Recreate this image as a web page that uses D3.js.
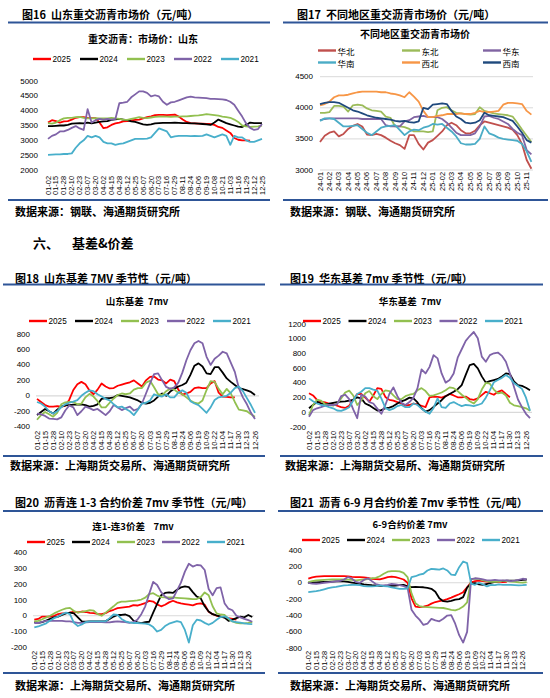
<!DOCTYPE html>
<html>
<head>
<meta charset="utf-8">
<script src="https://cdn.jsdelivr.net/npm/d3@7"></script>
<style>
  body { margin: 0; background: #fff; }
  svg text { font-family: 'Liberation Sans', Arial, sans-serif; fill: #000; }
  svg text.cjk { font-family: 'Noto Sans CJK SC', 'Liberation Sans', sans-serif; white-space: pre; }
</style>
</head>
<body>
<svg id="page" width="550" height="698"></svg>
<script>
// ---------- data ----------
const years = ['2025', '2024', '2023', '2022', '2021'];
const yearColors = ['#ff0000', '#000000', '#92c050', '#7f63a8', '#48afcb'];

const seasonLabels16 = ['01-02','01-15','01-28','02-10','02-23','03-07','03-20','04-02','04-15','04-28',
  '05-12','05-25','06-07','06-20','07-03','07-16','07-29','08-11','08-24','09-06','09-19',
  '10-08','10-21','11-03','11-16','11-29','12-12','12-25'];
const seasonLabels = ['01-02','01-15','01-28','02-10','02-23','03-07','03-20','04-02','04-15','04-28',
  '05-12','05-25','06-07','06-20','07-03','07-16','07-29','08-11','08-24','09-06','09-19',
  '10-09','10-22','11-04','11-17','11-30','12-13','12-26'];
const monthLabels17 = ['24-01','24-02','24-03','24-04','24-05','24-06','24-07','24-08','24-09','24-10','24-11','24-12',
  '25-01','25-02','25-03','25-04','25-05','25-06','25-07','25-08','25-09','25-10','25-11'];

// fig 16: Shandong market price, one value every half label
const sdPrice2025 = [3600,3680,3650,3600,3640,3650,3700,3760,3780,3780,3760,3750,3750,3600,3410,3440,3520,3570,3600,3640,
  3650,3670,3690,3700,3740,3780,3810,3850,3860,3860,3850,3860,3870,3800,3700,3620,3580,3570,3560,3560,
  3550,3550,3520,3450,3420,3330,3250,3080,3020,3000,3000,2990];
const sdPrice2024 = [3480,3480,3490,3500,3500,3520,3560,3570,3580,3570,3600,3570,3600,3620,3640,3650,3690,3710,3720,3700,
  3680,3640,3620,3580,3540,3520,3540,3570,3580,3590,3590,3590,3600,3590,3580,3580,3570,3570,3560,3550,
  3540,3520,3600,3700,3640,3580,3540,3500,3460,3450,3520,3600,3580,3580,3580];
const sdPrice2023 = [3580,3560,3600,3680,3740,3760,3760,3780,3790,3760,3740,3740,3750,3740,3740,3740,3760,3740,3720,3700,
  3690,3720,3750,3780,3760,3750,3770,3790,3800,3800,3800,3790,3800,3800,3810,3810,3820,3830,3840,3860,
  3880,3870,3850,3830,3800,3780,3760,3700,3620,3500,3470,3450,3460,3470,3500];
const sdPrice2022 = [3050,3150,3200,3300,3300,3350,3420,3480,3400,3350,4050,3600,3680,3720,3700,3720,3700,3720,4250,4270,
  4300,4450,4550,4650,4650,4600,4480,4520,4480,4300,4200,4280,4300,4350,4400,4450,4470,4450,4440,4430,
  4420,4400,4400,4390,4380,4360,4300,4200,4000,3800,3570,3420,3350,3380,3550];
const sdPrice2021 = [2510,2520,2530,2530,2540,2540,2560,2750,2900,3000,3150,3100,3150,3100,2950,2900,2900,2850,2880,2900,
  2950,3000,3050,3050,3050,3060,3100,3250,3400,3350,3300,3100,3130,3150,3150,3150,3140,3150,3140,3150,
  3200,3150,3100,3150,3200,3150,2850,3150,3100,3100,3000,2950,2950,3000,3050];

// fig 17: regional prices, one value every half month from 24-01
const regions = ['华北', '东北', '华东', '华南', '西北', '西南'];
const regionColors = ['#c0504d', '#9bbb59', '#8064a2', '#4bacc6', '#f79646', '#1f497d'];
const priceNorth = [3450,3550,3600,3620,3540,3580,3660,3710,3740,3700,3570,3560,3580,3560,3520,3470,3430,3400,3340,3560,
  3560,3420,3330,3440,3480,3550,3620,3720,3760,3720,3640,3590,3590,3630,3720,3780,3760,3740,3720,3700,
  3680,3650,3560,3420,3160,3020];
const priceNortheast = [3920,3920,3930,4030,4030,4020,3940,4040,4050,4040,3990,3960,3950,3940,3860,3840,3700,3700,3690,3660,
  3620,3620,3620,3610,3620,3960,4000,4010,3960,3920,3910,3900,3890,3900,4010,3950,3930,3910,3900,3890,
  3880,3860,3760,3650,3550,3450];
const priceEast = [3800,3820,3830,3830,3830,3830,3830,3830,3830,3820,3820,3820,3820,3820,3720,3700,3700,3700,3780,3800,
  3850,3860,3870,3850,3850,3850,3820,3760,3680,3600,3560,3560,3560,3590,3700,3860,3870,3840,3820,3780,
  3740,3660,3600,3560,3320,3250];
const priceSouth = [3790,3830,3830,3820,3760,3700,3700,3710,3720,3660,3600,3560,3620,3680,3700,3710,3720,3640,3560,3620,
  3650,3640,3680,3700,3740,3730,3740,3680,3620,3540,3430,3410,3410,3420,3500,3700,3590,3560,3520,3500,
  3490,3480,3470,3420,3300,3130];
const priceNorthwest = [4040,4060,4100,4170,4200,4200,4210,4230,4250,4260,4260,4260,4260,4250,4250,4230,4220,4200,4170,4250,
  4180,4100,3950,3850,3850,3870,3880,3900,3900,3900,3910,3900,3900,3920,3950,3930,3930,3940,3950,4050,
  4080,4080,4070,4060,3950,3890];
const priceSouthwest = [4060,4080,4090,4090,4080,4040,4000,3960,3940,3910,3880,3860,3840,3830,3820,3810,3790,3780,3790,3770,
  3760,3780,4000,3980,4050,4060,4070,4060,3950,3860,3820,3760,3750,3760,3800,3920,3880,3870,3860,3850,
  3820,3790,3700,3600,3480,3440];

// fig 18: Shandong basis 7mv
const sdBasis2025 = [-40,-80,-120,-140,-140,-135,-140,-130,-50,75,150,180,150,70,20,80,160,120,95,100,
  130,145,160,175,200,160,120,200,245,250,210,200,160,210,190,80,15,30,50,100,
  110,100,100,160,190,40,-10,-15,-20,-20];
const sdBasis2024 = [-250,-210,-170,-200,-230,-180,-140,-125,-120,-115,-115,-110,-120,-140,-130,-110,-40,-30,-30,-20,
  10,0,-10,-20,-40,-60,-90,-100,-90,-60,-10,30,0,55,90,120,140,170,270,390,
  420,380,290,280,370,370,300,225,180,140,100,85,70,50,10];
const sdBasis2023 = [-310,-250,-210,-240,-270,-220,-110,-85,-80,-80,-110,-100,-20,25,-10,-70,-150,-150,-90,-35,
  10,30,20,30,80,100,100,170,195,110,20,10,60,95,80,40,20,-20,-60,-90,
  -100,-60,75,190,180,90,20,90,30,-80,-180,-190,-200,-240,-270];
const sdBasis2022 = [-230,-240,-260,-295,-300,-305,-280,-190,-125,-150,-250,-200,-140,-160,-185,-170,-210,-250,-200,-120,
  -150,-185,-160,-140,-190,-170,-100,30,160,280,290,200,115,90,110,170,300,460,590,680,
  710,680,505,400,480,520,570,550,430,310,100,-20,-110,-220,-300];
const sdBasis2021 = [-80,-100,-140,-200,-230,-200,-150,-110,-90,-75,-55,0,40,70,60,20,-10,-40,-60,-110,
  -150,-140,-170,-200,-250,-180,-100,-90,-60,20,0,-10,20,-20,-20,40,70,40,-70,-100,
  -120,-170,-220,-150,-55,-20,-10,0,40,100,120,60,-30,-120,-220];

// fig 19: East China basis 7mv
const ecBasis2025 = [260,230,170,145,135,120,110,90,70,60,90,170,250,250,200,145,230,330,320,210,
  170,160,140,120,90,100,120,110,90,70,205,215,210,200,220,250,230,205,205,215,
  180,170,190,235,280,260,240,280,300,250,205];
const ecBasis2024 = [55,100,145,120,115,120,130,140,145,150,160,170,205,190,120,95,60,25,30,55,
  65,85,120,150,170,200,190,135,55,10,30,75,120,165,220,250,280,315,370,510,
  645,660,600,490,405,425,440,455,490,530,520,420,370,360,335,300];
const ecBasis2023 = [-40,100,170,160,110,100,90,120,190,270,295,230,100,160,260,290,220,180,250,300,
  290,230,180,180,220,240,250,300,330,290,225,230,250,270,300,340,330,290,240,200,
  150,120,180,310,400,390,310,260,270,230,130,95,85,70,55,20];
const ecBasis2022 = [-60,30,55,70,90,100,100,110,220,240,180,40,-80,240,215,140,120,50,-20,100,
  250,340,220,130,100,140,200,330,585,530,620,780,735,530,405,440,530,745,860,975,
  1040,1095,1010,760,690,780,805,815,770,690,530,350,175,70,-20,-80];
const ecBasis2021 = [190,150,120,100,90,70,55,25,20,40,70,160,250,280,330,330,310,295,190,60,
  30,50,85,100,70,70,120,100,50,10,-20,60,190,70,60,120,140,110,85,100,
  95,85,100,120,200,300,410,440,470,510,470,400,360,320,200,20];

// fig 20: 1-3 contract spread 7mv
const spread13_2025 = [-25,-20,-5,-5,-5,0,10,15,17,20,27,22,27,24,18,17,12,10,17,30,
  38,48,52,55,58,68,65,72,80,95,90,72,60,70,85,95,85,78,74,70,
  66,75,78,70,25,10,0,-5,-10,-15,-20,-25];
const spread13_2024 = [-40,-45,-40,-30,-20,-10,-5,5,15,20,15,-10,-35,-38,-36,-35,-36,-36,-34,-20,
  -5,5,5,8,-2,-30,-42,-46,-40,-38,20,75,130,145,148,145,165,180,186,182,
  150,122,110,60,27,10,2,-5,-12,-32,-25,-15,-5,-10,5,-8];
const spread13_2023 = [-36,-32,-22,-10,0,15,27,38,47,50,30,20,24,30,36,32,10,0,20,40,
  60,82,90,90,93,95,97,103,115,138,143,128,118,116,116,116,114,112,110,108,
  105,106,118,148,130,60,15,8,5,-20,-36,-45,-48,-48,-45,-40];
const spread13_2022 = [-46,-46,-38,-33,-32,-32,-32,-32,-35,-36,-40,-45,-45,-42,-40,-40,-40,-40,-42,-42,
  -38,-36,-38,-40,-45,-40,-25,10,60,140,215,195,150,122,105,110,160,210,280,330,
  312,322,320,290,170,130,175,180,80,45,35,0,-10,-20,-28,-38];
const spread13_2021 = [-74,-68,-58,-48,-30,-15,-5,10,20,10,-45,-65,-55,-40,-36,-36,-36,-36,-35,-15,
  8,5,-20,-35,-42,-46,-46,-48,-50,-55,-72,-100,-90,-65,-50,-42,-34,-40,-90,-170,
  -60,-25,-30,-45,-57,-45,-25,-8,-4,-15,-36,-40,-44,-48,-52,-53];

// fig 21: 6-9 contract spread 7mv
const spread69_2025 = [50,65,75,78,82,82,82,82,82,80,78,72,70,70,66,60,49,45,41,55,
  70,75,70,55,40,0,-190,-290,-298,-290,-280,-255,-235,-225,-215,-200,-182,-160,-140,-115,
  -55,5,20,25,20,15,10,12,15,8,10];
const spread69_2024 = [0,3,5,8,10,12,15,16,16,16,10,2,-5,-12,-20,-25,-30,-33,-37,-41,
  -41,-38,-35,-30,-25,-45,-53,-50,-53,-55,-62,-74,-110,-190,-225,-229,-220,-205,-200,-175,
  -60,-10,-5,-20,-25,-15,0,10,20,20,25,25,25,30,35,40];
const spread69_2023 = [8,20,29,32,35,38,40,41,41,40,38,35,30,36,40,45,55,60,80,110,
  135,143,143,140,120,70,-130,-250,-285,-295,-298,-300,-303,-306,-308,-318,-330,-338,-320,-290,
  -240,40,50,48,30,20,10,12,15,25,20,15,10,5,2,8];
const spread69_2022 = [0,-10,-12,-8,0,5,10,16,22,40,70,50,10,0,35,55,20,-15,-30,-32,
  -25,-15,-20,-30,-41,-60,-330,-400,-450,-515,-500,-440,-460,-470,-440,-400,-395,-500,-640,-730,
  -600,45,55,50,40,30,30,35,30,30,28,20,25,35,49,40];
const spread69_2021 = [-114,-108,-102,-94,-80,-65,-55,-50,-40,-33,-30,-25,-25,-30,-40,-45,-45,-42,-33,-40,
  -45,-55,-65,-74,-74,-70,70,80,100,110,150,170,165,160,175,150,100,95,190,260,
  240,-10,-25,0,-20,-45,-25,-30,-20,-25,-25,-25,-28,-32,-30,-25];

// ---------- chart ----------
class LineChart {

  constructor(_config, series) {
    this.config = {
      parentElement: _config.parentElement,
      xRange: _config.xRange,
      xDomain: _config.xDomain,
      yRange: _config.yRange,
      yDomain: _config.yDomain,
      yStep: _config.yStep,
      yLabelX: _config.yLabelX,
      xLabelY: _config.xLabelY,
      xLabels: _config.xLabels,
      step: 0.5,
      grid: _config.grid || null,
      zeroLine: _config.zeroLine || null,
      legend: _config.legend
    }
    this.series = series;
    this.initVis();
  }

  initVis() {
    let vis = this;
    vis.svg = d3.select(vis.config.parentElement);
    vis.chart = vis.svg.append('g');

    vis.xScale = d3.scaleLinear()
        .domain(vis.config.xDomain)
        .range(vis.config.xRange);
    vis.yScale = d3.scaleLinear()
        .domain(vis.config.yDomain)
        .range(vis.config.yRange);

    vis.line = d3.line()
        .x((d, i) => vis.xScale(i * vis.config.step))
        .y(d => vis.yScale(d));

    vis.renderVis();
  }

  renderVis() {
    let vis = this;
    const [y0, y1] = vis.config.yDomain;
    const yTicks = d3.range(y0, y1 + 1, vis.config.yStep);

    // horizontal gridlines (fig 17 only)
    if (vis.config.grid) {
      vis.chart.selectAll('.grid')
          .data(yTicks)
          .join('line')
          .attr('class', 'grid')
          .attr('x1', vis.config.grid[0])
          .attr('x2', vis.config.grid[1])
          .attr('y1', d => vis.yScale(d))
          .attr('y2', d => vis.yScale(d))
          .attr('stroke', '#d9d9d9')
          .attr('stroke-width', 1);
    }

    // zero line for the spread charts
    if (vis.config.zeroLine) {
      vis.chart.append('line')
          .attr('x1', vis.config.zeroLine[0])
          .attr('x2', vis.config.zeroLine[1])
          .attr('y1', vis.yScale(0))
          .attr('y2', vis.yScale(0))
          .attr('stroke', '#d9d9d9')
          .attr('stroke-width', 1.2);
    }

    // y tick labels
    vis.chart.selectAll('.y-label')
        .data(yTicks)
        .join('text')
        .attr('class', 'y-label')
        .attr('x', vis.config.yLabelX)
        .attr('y', d => vis.yScale(d))
        .attr('text-anchor', 'end')
        .attr('dominant-baseline', 'central')
        .attr('font-size', '8px')
        .text(d => d);

    // x tick labels, rotated
    vis.chart.selectAll('.x-label')
        .data(vis.config.xLabels)
        .join('text')
        .attr('class', 'x-label')
        .attr('text-anchor', 'end')
        .attr('dominant-baseline', 'central')
        .attr('font-size', '7.4px')
        .attr('transform', (d, i) => `translate(${vis.xScale(i)},${vis.config.xLabelY}) rotate(-90)`)
        .text(d => d);

    // series lines
    vis.chart.selectAll('.series')
        .data(vis.series)
        .join('path')
        .attr('class', 'series')
        .attr('fill', 'none')
        .attr('stroke', d => d.color)
        .attr('stroke-width', 1.8)
        .attr('stroke-linejoin', 'round')
        .attr('d', d => vis.line(d.values));

    // legend
    const lg = vis.config.legend;
    const item = vis.chart.selectAll('.legend')
        .data(vis.series)
        .join('g')
        .attr('class', 'legend')
        .attr('transform', (d, i) => `translate(${lg.x(i)},${lg.y(i)})`);
    item.append('line')
        .attr('x1', 0)
        .attr('x2', lg.len)
        .attr('stroke', d => d.color)
        .attr('stroke-width', 2.4);
    item.append('text')
        .attr('class', lg.cjk ? 'cjk' : null)
        .attr('x', lg.len + 1.5)
        .attr('dominant-baseline', 'central')
        .attr('font-size', lg.fontSize)
        .text(d => d.name);
  }
}

// ---------- page furniture ----------
const page = d3.select('#page');

function addText(x, y, str, size, weight, anchor) {
  page.append('text')
      .attr('class', 'cjk')
      .attr('x', x)
      .attr('y', y)
      .attr('text-anchor', anchor || 'start')
      .attr('dominant-baseline', 'central')
      .attr('font-size', size + 'px')
      .attr('font-weight', weight)
      .text(str);
}

function addRule(x1, x2, y) {
  page.append('line')
      .attr('x1', x1).attr('x2', x2)
      .attr('y1', y).attr('y2', y)
      .attr('stroke', '#2e5597')
      .attr('stroke-width', 2);
}

// figure titles + rules
addText(22, 14, '图16  山东重交沥青市场价（元/吨）', 11, 700);
addText(297, 14, '图17  不同地区重交沥青市场价（元/吨）', 11, 700);
addText(15, 278, '图18  山东基差 7MV 季节性（元/吨）', 11, 700);
addText(290, 278, '图19  华东基差 7mv 季节性（元/吨）', 11, 700);
addText(15, 502, '图20  沥青连 1-3 合约价差 7mv 季节性（元/吨）', 11, 700);
addText(290, 502, '图21  沥青 6-9 月合约价差 7mv 季节性（元/吨）', 11, 700);
addText(33, 242, '六、', 13, 700);
addText(72, 242, '基差&价差', 13, 700);

[[8, 270, 22.5], [283, 548, 22.5], [3, 265, 284.5], [280, 543, 284.5], [3, 265, 511], [278, 543, 511],
 [8, 270, 200], [283, 548, 200], [3, 265, 456], [280, 543, 456], [3, 265, 673], [278, 543, 673]]
  .forEach(r => addRule(r[0], r[1], r[2]));

// chart titles
addText(143, 38, '重交沥青：市场价：山东', 10, 700, 'middle');
addText(415, 33, '不同地区重交沥青市场价', 10, 700, 'middle');
addText(137, 301, '山东基差  7mv', 9.5, 700, 'middle');
addText(410, 301, '华东基差  7mv', 9.5, 700, 'middle');
addText(133, 526, '连1-连3价差    7mv', 9.5, 700, 'middle');
addText(410, 524, '6-9合约价差 7mv', 9.5, 700, 'middle');

// sources
addText(15, 211, '数据来源：钢联、海通期货研究所', 11, 700);
addText(290, 211, '数据来源：钢联、海通期货研究所', 11, 700);
addText(10, 465, '数据来源：上海期货交易所、海通期货研究所', 11, 700);
addText(285, 465, '数据来源：上海期货交易所、海通期货研究所', 11, 700);
addText(15, 685, '数据来源：上海期货交易所、海通期货研究所', 11, 700);
addText(290, 685, '数据来源：上海期货交易所、海通期货研究所', 11, 700);

// ---------- charts ----------
function yearSeries(list) {
  return list.map((values, i) => ({name: years[i], color: yearColors[i], values: values}));
}
function rowLegend(x0, dx, y) {
  return {x: i => x0 + i * dx, y: () => y, len: 18, fontSize: '8.2px', cjk: false};
}

new LineChart({
  parentElement: '#page',
  xRange: [48, 262], xDomain: [0, 27],
  yRange: [170, 81], yDomain: [2000, 5000], yStep: 500,
  yLabelX: 38, xLabelY: 176, xLabels: seasonLabels16,
  legend: rowLegend(33, 47, 59)
}, yearSeries([sdPrice2025, sdPrice2024, sdPrice2023, sdPrice2022, sdPrice2021]));

new LineChart({
  parentElement: '#page',
  xRange: [320, 526.7], xDomain: [0, 22],
  yRange: [170, 76.7], yDomain: [3000, 4500], yStep: 500,
  yLabelX: 313, xLabelY: 172, xLabels: monthLabels17,
  grid: [320, 533],
  legend: {x: i => [318, 402, 483][i % 3], y: i => i < 3 ? 50.5 : 62.5, len: 18, fontSize: '8.5px', cjk: true}
}, [priceNorth, priceNortheast, priceEast, priceSouth, priceNorthwest, priceSouthwest]
    .map((values, i) => ({name: regions[i], color: regionColors[i], values: values})));

new LineChart({
  parentElement: '#page',
  xRange: [37, 255], xDomain: [0, 27],
  yRange: [426.7, 334], yDomain: [-400, 800], yStep: 200,
  yLabelX: 30, xLabelY: 431, xLabels: seasonLabels,
  zeroLine: [36, 259],
  legend: rowLegend(29, 46, 321)
}, yearSeries([sdBasis2025, sdBasis2024, sdBasis2023, sdBasis2022, sdBasis2021]));

new LineChart({
  parentElement: '#page',
  xRange: [309, 526], xDomain: [0, 27],
  yRange: [427, 324.3], yDomain: [-200, 1200], yStep: 200,
  yLabelX: 306, xLabelY: 431, xLabels: seasonLabels,
  zeroLine: [308, 532],
  legend: rowLegend(303, 45.5, 321)
}, yearSeries([ecBasis2025, ecBasis2024, ecBasis2023, ecBasis2022, ecBasis2021]));

new LineChart({
  parentElement: '#page',
  xRange: [34.3, 248.3], xDomain: [0, 27],
  yRange: [647.3, 552.7], yDomain: [-200, 400], yStep: 100,
  yLabelX: 27, xLabelY: 651, xLabels: seasonLabels,
  zeroLine: [33, 254],
  legend: rowLegend(27, 45, 542)
}, yearSeries([spread13_2025, spread13_2024, spread13_2023, spread13_2022, spread13_2021]));

new LineChart({
  parentElement: '#page',
  xRange: [308.3, 522.7], xDomain: [0, 27],
  yRange: [648.3, 550], yDomain: [-800, 400], yStep: 200,
  yLabelX: 302, xLabelY: 651, xLabels: seasonLabels,
  zeroLine: [307, 528],
  legend: rowLegend(302, 45, 540)
}, yearSeries([spread69_2025, spread69_2024, spread69_2023, spread69_2022, spread69_2021]));
</script>
</body>
</html>
